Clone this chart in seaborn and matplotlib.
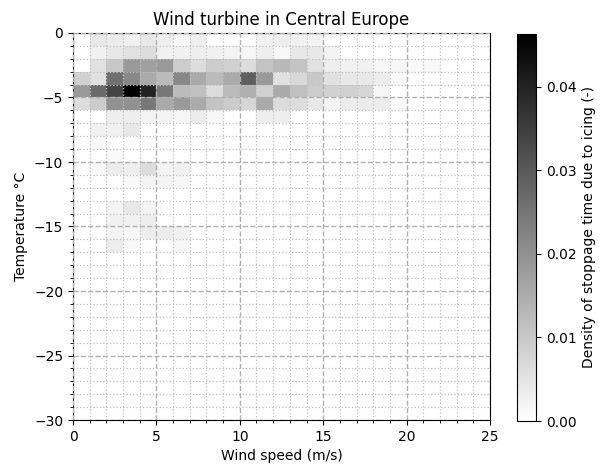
import matplotlib
matplotlib.use("Agg")
import numpy as np
import pandas as pd
import seaborn as sns
import matplotlib.pyplot as plt
from matplotlib.ticker import MultipleLocator

# ---- data -------------------------------------------------------------
wind_edges = list(range(0, 26))          # wind speed bin edges (m/s)
temp_edges = list(range(-30, 1))         # temperature bin edges (°C)
temp_band_top = [0, -1, -2, -3, -4, -5, -6, -7, -8, -9, -10, -11, -12, -13, -14, -15, -16]

# density per wind bin (0-1, 1-2, ... 24-25) for each temperature band
row_0 = [0, 0.0042, 0.0036, 0.0027, 0.0042, 0.0031, 0.0018, 0.0031, 0, 0, 0, 0.0027, 0.0031, 0.0027, 0.0022, 0, 0, 0, 0, 0, 0, 0, 0, 0, 0]
row_1 = [0, 0.0027, 0.0042, 0.0056, 0.0062, 0.0027, 0.0027, 0.0031, 0.0027, 0.0022, 0.0018, 0.0031, 0.0013, 0.0042, 0.0042, 0.0022, 0, 0, 0, 0, 0, 0, 0, 0, 0]
row_2 = [0, 0.0056, 0.0100, 0.0185, 0.0172, 0.0185, 0.0093, 0.0062, 0.0093, 0.0085, 0.0062, 0.0110, 0.0130, 0.0110, 0.0056, 0.0031, 0.0027, 0.0027, 0.0018, 0.0018, 0.0013, 0.0013, 0, 0, 0]
row_3 = [0.0085, 0.0056, 0.0260, 0.0216, 0.0154, 0.0123, 0.0216, 0.0154, 0.0123, 0.0154, 0.0290, 0.0185, 0.0056, 0.0071, 0.0100, 0.0056, 0.0042, 0.0042, 0.0036, 0.0013, 0, 0, 0, 0, 0]
row_4 = [0.0185, 0.0271, 0.0340, 0.0463, 0.0401, 0.0247, 0.0123, 0.0114, 0.0062, 0.0123, 0.0143, 0.0085, 0.0154, 0.0114, 0.0093, 0.0085, 0.0085, 0.0076, 0.0018, 0, 0, 0, 0, 0, 0]
row_5 = [0.0062, 0.0093, 0.0200, 0.0200, 0.0247, 0.0154, 0.0185, 0.0154, 0.0110, 0.0093, 0.0075, 0.0154, 0.0065, 0.0062, 0.0042, 0.0022, 0.0036, 0.0036, 0.0036, 0.0013, 0, 0, 0, 0, 0]
row_6 = [0, 0, 0.0031, 0.0031, 0.0022, 0.0022, 0.0018, 0.0036, 0.0018, 0, 0, 0.0031, 0.0031, 0, 0, 0, 0, 0, 0, 0, 0, 0, 0, 0, 0]
row_7 = [0, 0.0027, 0.0027, 0.0042, 0, 0, 0, 0, 0, 0, 0, 0, 0, 0, 0, 0, 0, 0, 0, 0, 0, 0, 0, 0, 0]
row_8 = [0, 0.0013, 0, 0, 0, 0, 0, 0, 0, 0, 0, 0, 0, 0, 0, 0, 0, 0, 0, 0, 0, 0, 0, 0, 0]
row_9 = [0, 0, 0.0010, 0, 0, 0, 0, 0, 0, 0, 0, 0, 0, 0, 0, 0, 0, 0, 0, 0, 0, 0, 0, 0, 0]
row_10 = [0, 0.0013, 0.0036, 0.0031, 0.0062, 0.0022, 0.0027, 0, 0, 0, 0, 0, 0, 0, 0, 0, 0, 0, 0, 0, 0, 0, 0, 0, 0]
row_11 = [0, 0, 0, 0.0013, 0.0022, 0.0022, 0.0018, 0, 0, 0, 0, 0, 0, 0, 0, 0, 0, 0, 0, 0, 0, 0, 0, 0, 0]
row_12 = [0] * 25
row_13 = [0, 0, 0.0022, 0.0042, 0.0022, 0, 0, 0, 0, 0, 0, 0, 0, 0, 0, 0, 0, 0, 0, 0, 0, 0, 0, 0, 0]
row_14 = [0, 0, 0.0027, 0.0027, 0.0034, 0, 0, 0, 0, 0, 0, 0, 0, 0, 0, 0, 0, 0, 0, 0, 0, 0, 0, 0, 0]
row_15 = [0, 0, 0.0022, 0.0018, 0.0036, 0.0036, 0.0027, 0, 0, 0, 0, 0, 0, 0, 0, 0, 0, 0, 0, 0, 0, 0, 0, 0, 0]
row_16 = [0, 0, 0.0036, 0.0013, 0, 0, 0.0018, 0, 0, 0, 0, 0, 0, 0, 0, 0, 0, 0, 0, 0, 0, 0, 0, 0, 0]

rows = [row_0, row_1, row_2, row_3, row_4, row_5, row_6, row_7, row_8,
        row_9, row_10, row_11, row_12, row_13, row_14, row_15, row_16]

records = []
for top, vals in zip(temp_band_top, rows):
    for i, v in enumerate(vals):
        if v > 0:
            records.append({"wind": (wind_edges[i] + wind_edges[i + 1]) / 2,
                            "temp": top - 0.5, "density": v})
df = pd.DataFrame(records)
vmax = df["density"].max()

# ---- plot -------------------------------------------------------------
fig = plt.figure(figsize=(6, 4.65), dpi=100)
ax = fig.add_axes([73 / 600, 45 / 465, 417 / 600, 387 / 465])
cax = fig.add_axes([517 / 600, 44 / 465, 19 / 600, 387 / 465])

sns.histplot(data=df, x="wind", y="temp", weights="density",
             bins=[wind_edges, temp_edges], cmap="gray_r",
             vmin=0, vmax=vmax, cbar=True, cbar_ax=cax,
             cbar_kws={"label": "Density of stoppage time due to icing (-)"},
             ax=ax)
for m in ax.collections:
    m.set_clim(0, vmax)

ax.set_xlim(0, 25)
ax.set_ylim(-30, 0)
ax.xaxis.set_major_locator(MultipleLocator(5))
ax.xaxis.set_minor_locator(MultipleLocator(1))
ax.yaxis.set_major_locator(MultipleLocator(5))
ax.yaxis.set_minor_locator(MultipleLocator(1))
ax.set_axisbelow(False)
ax.grid(True, which="major", linestyle="--", color="#b0b0b0", linewidth=1.0)
ax.grid(True, which="minor", linestyle=":", color="#c0c0c0", linewidth=0.9)

ax.set_xlabel("Wind speed (m/s)")
ax.set_ylabel("Temperature °C")
ax.set_title("Wind turbine in Central Europe", fontsize=12)

cax.yaxis.set_major_locator(MultipleLocator(0.01))
cax.yaxis.set_major_formatter(matplotlib.ticker.FormatStrFormatter("%.2f"))

fig.savefig("out.png", dpi=100)
